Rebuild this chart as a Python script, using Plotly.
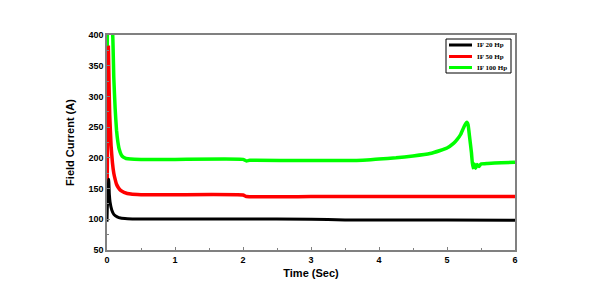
import plotly.graph_objects as go

# Time (s) and field current (A) samples
t_20 = [0.0, 0.005, 0.015, 0.025, 0.035, 0.045, 0.07, 0.1, 0.15, 0.2, 0.3, 0.5, 1.0, 2.0, 3.0, 3.5, 4.0, 5.0, 6.0]
i_20 = [96, 120, 135, 165, 140, 128, 115, 108, 104, 102, 101, 100.5, 100.5, 100.5, 100, 99, 99, 99, 98.5]

t_50 = [0.0, 0.005, 0.01, 0.02, 0.03, 0.04, 0.06, 0.08, 0.1, 0.12, 0.14, 0.17, 0.2, 0.25, 0.35, 0.5, 1.0, 2.0, 2.05, 3.0, 4.0, 5.0, 6.0]
i_50 = [130, 190, 250, 380, 320, 270, 220, 192, 175, 165, 157, 151, 147, 144, 141, 140, 140, 139.5, 137, 137, 137, 137, 137]

t_100 = [0.0, 0.005, 0.02, 0.05, 0.084, 0.1, 0.12, 0.14, 0.16, 0.18, 0.21, 0.24, 0.28, 0.35, 0.5, 1.0, 2.0, 2.05, 2.1, 3.0, 3.76, 4.0, 4.25, 4.5, 4.75, 4.9, 5.0, 5.1, 5.15, 5.2, 5.24, 5.27, 5.29, 5.31, 5.33, 5.36, 5.38, 5.4, 5.42, 5.44, 5.47, 5.5, 5.6, 5.8, 6.0]
i_100 = [190, 430, 480, 440, 400, 330, 280, 245, 226, 214, 205, 201, 199, 198, 197.5, 197.5, 197.5, 195, 196, 195.5, 196, 198, 200, 203, 207, 212, 216, 224, 230, 238, 248, 255, 258, 254, 236, 208, 184, 190, 183, 189, 186, 190, 191, 192, 193]

series_names = ["IF 20 Hp", "IF 50 Hp", "IF 100 Hp"]
series_colors = ["#000000", "#ff0000", "#00ff00"]

x_ticks = [0, 1, 2, 3, 4, 5, 6]
y_ticks = [50, 100, 150, 200, 250, 300, 350, 400]

fig = go.Figure()
data = [(t_20, i_20), (t_50, i_50), (t_100, i_100)]
widths = [3, 3.5, 3.5]
for k in [2, 1, 0]:
    tx, iy = data[k]
    fig.add_trace(go.Scatter(x=tx, y=iy, mode="lines", name=series_names[k],
                             line=dict(color=series_colors[k], width=widths[k], shape="spline", smoothing=0.4),
                             showlegend=False))

tick_font = dict(family="Liberation Sans, Arial", size=9, color="#000", weight="bold")
title_font = dict(family="Liberation Sans, Arial", size=11, color="#000", weight="bold")
axis_common = dict(showgrid=False, zeroline=False, showline=True, linecolor="#808080",
                   linewidth=1.5, mirror=True, ticks="inside", tickcolor="#808080",
                   tickwidth=1, ticklen=3, tickfont=tick_font)

fig.update_xaxes(range=[0, 6], tickvals=x_ticks,
                 minor=dict(ticks="inside", dtick=0.5, ticklen=2, tickcolor="#808080"),
                 title=dict(text="Time (Sec)", font=title_font, standoff=6),
                 **axis_common)
fig.update_yaxes(range=[50, 400], tickvals=y_ticks,
                 minor=dict(ticks="inside", dtick=25, ticklen=2, tickcolor="#808080"),
                 title=dict(text="Field Current (A)", font=title_font, standoff=12),
                 **axis_common)

# Manual compact legend (paper coords relative to plot area)
PW, PH, L, B = 408.0, 215.0, 107.0, 250.0
def px(x):
    return (x - L) / PW
def py(y):
    return (B - y) / PH

shapes = [dict(type="rect", xref="paper", yref="paper", x0=px(446), x1=px(511), y0=py(73), y1=py(39),
               line=dict(color="#000", width=1), fillcolor="white", layer="above")]
annotations = []
row_y = [45, 56.5, 67.5]
for k in range(3):
    shapes.append(dict(type="line", xref="paper", yref="paper", x0=px(449), x1=px(472),
                       y0=py(row_y[k]), y1=py(row_y[k]),
                       line=dict(color=series_colors[k], width=3), layer="above"))
    annotations.append(dict(xref="paper", yref="paper", x=px(475), y=py(row_y[k]),
                            xanchor="left", yanchor="middle", showarrow=False,
                            text=series_names[k],
                            font=dict(family="Liberation Serif, Times New Roman", size=7, color="#000", weight="bold")))

fig.update_layout(
    width=600, height=301,
    margin=dict(l=107, r=85, t=35, b=51),
    plot_bgcolor="white", paper_bgcolor="white",
    showlegend=False,
    shapes=shapes, annotations=annotations,
)

fig.write_html("out.html")
